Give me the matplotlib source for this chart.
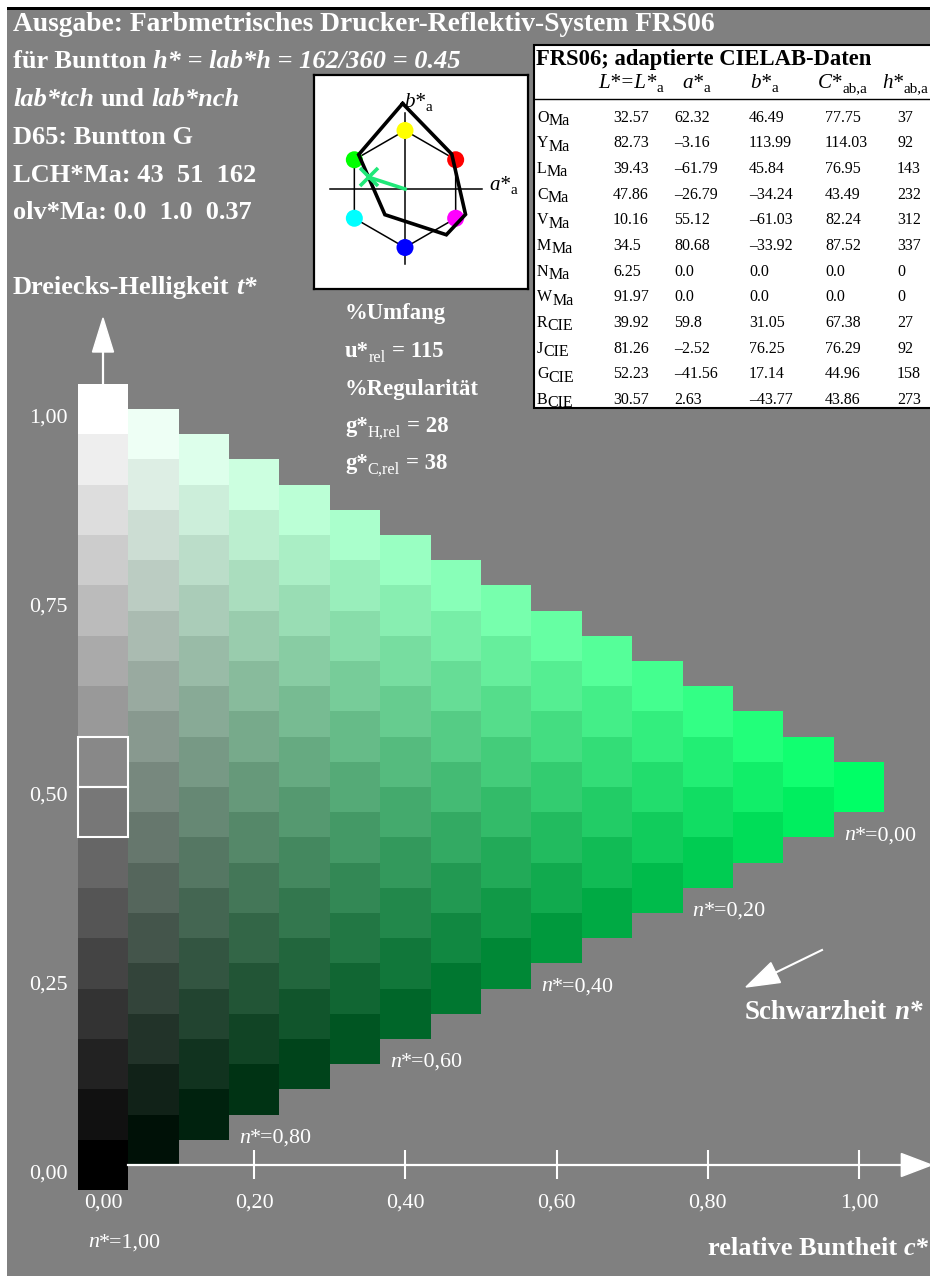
import numpy as np
import matplotlib.pyplot as plt
from matplotlib.patches import Rectangle, Polygon

plt.rcParams['font.family'] = ['Liberation Serif', 'DejaVu Serif']

# ---- data ----
grey_levels = [0, 17, 34, 51, 68, 85, 102, 119, 136, 153, 170, 187, 204, 221, 238, 255]
hue_rgb = (0, 255, 102)          # colour of the full-chroma step (c*=1)
marked_steps = [7, 8]            # outlined grey steps

n_values = [0.0, 0.2, 0.4, 0.6, 0.8]
n_labels = ['0,00', '0,20', '0,40', '0,60', '0,80']
c_ticks = [0.0, 0.2, 0.4, 0.6, 0.8, 1.0]
c_tick_labels = ['0,00', '0,20', '0,40', '0,60', '0,80', '1,00']
t_ticks = [0.0, 0.25, 0.5, 0.75, 1.0]
t_tick_labels = ['0,00', '0,25', '0,50', '0,75', '1,00']

row_names = ['O', 'Y', 'L', 'C', 'V', 'M', 'N', 'W', 'R', 'J', 'G', 'B']
row_subs = ['Ma'] * 8 + ['CIE'] * 4
L_vals = ['32.57', '82.73', '39.43', '47.86', '10.16', '34.5', '6.25', '91.97', '39.92', '81.26', '52.23', '30.57']
a_vals = ['62.32', '–3.16', '–61.79', '–26.79', '55.12', '80.68', '0.0', '0.0', '59.8', '–2.52', '–41.56', '2.63']
b_vals = ['46.49', '113.99', '45.84', '–34.24', '–61.03', '–33.92', '0.0', '0.0', '31.05', '76.25', '17.14', '–43.77']
C_vals = ['77.75', '114.03', '76.95', '43.49', '82.24', '87.52', '0.0', '0.0', '67.38', '76.29', '44.96', '43.86']
h_vals = ['37', '92', '143', '232', '312', '337', '0', '0', '27', '92', '158', '273']

hex_angles = [30, 90, 150, 210, 270, 330]
hex_colors = ['#ff0000', '#ffff00', '#00ff00', '#00ffff', '#0000ff', '#ff00ff']
hex_radius = 78
gamut_order = ['Y', 'O', 'M', 'V', 'C', 'L']
hue_angle = 162
hue_chroma = 51

W, H = 930, 1276
fig = plt.figure(figsize=(W / 100, H / 100), dpi=100)
fig.patch.set_facecolor('white')

# background
bg = fig.add_axes([0, 0, 1, 1])
bg.set_xlim(0, W); bg.set_ylim(H, 0); bg.axis('off')
bg.add_patch(Rectangle((7, 7), W - 7, H - 7, facecolor='#808080', edgecolor='none'))
bg.add_patch(Rectangle((7, 7), W - 7, 3, facecolor='black', edgecolor='none'))

# main triangle axes, 756 px per unit
ax = fig.add_axes([0, 0, 1, 1])
ax.set_xlim(-103 / 756, 827 / 756)
ax.set_ylim(-111 / 756, 1165 / 756)
ax.axis('off')
ax.patch.set_alpha(0)

step = 1 / 15
for j in range(16):
    c = grey_levels[j] / 255
    ws = [grey_levels[i] / 255 for i in range(16 - j)]
    cols = [tuple(min(1.0, c * hue_rgb[k] / 255 + w) for k in range(3)) for w in ws]
    ax.bar([c] * len(ws), [step] * len(ws), width=step,
           bottom=[c / 2 + w - step / 2 for w in ws],
           color=cols, linewidth=0, antialiased=False)

for i in marked_steps:
    w = grey_levels[i] / 255
    ax.add_patch(Rectangle((-step / 2, w - step / 2), step, step, fill=False,
                           edgecolor='white', lw=1.5, zorder=5))

# axes with arrows
ax.plot([step / 2, 1.057], [0, 0], color='white', lw=1.6, zorder=6)
ax.vlines(c_ticks[1:], -14 / 756, 15 / 756, color='white', lw=1.5, zorder=6)
ax.add_patch(Polygon([(1.056, 0.0152), (1.096, 0), (1.056, -0.0152)], color='white', zorder=6))
ax.plot([0, 0], [1 + step / 2, 1.077], color='white', lw=1.6, zorder=6)
ax.add_patch(Polygon([(-0.0139, 1.0754), (0, 1.1204), (0.0139, 1.0754)], color='white', zorder=6))

# ---- inset: a*b* diagram ----
ins = fig.add_axes([314 / W, 1 - 289 / H, 214 / W, 214 / H])
s = 0.75
ins.set_xlim((314 - 405) / s, (528 - 405) / s)
ins.set_ylim((189 - 289) / s, (189 - 75) / s)
ins.set_xticks([]); ins.set_yticks([])
ins.set_facecolor('white')
for sp in ins.spines.values():
    sp.set_linewidth(1.6)
ins.plot([-100, 102], [0, 0], color='black', lw=1.1, zorder=1)
ins.plot([0, 0], [-100, 101], color='black', lw=1.1, zorder=1)
hx = [hex_radius * np.cos(np.radians(a)) for a in hex_angles]
hy = [hex_radius * np.sin(np.radians(a)) for a in hex_angles]
ins.plot(hx + hx[:1], hy + hy[:1], color='black', lw=1.1, zorder=1)
ins.scatter(hx, hy, s=150, c=hex_colors, zorder=2, linewidths=0)


def num(v):
    return float(v.replace('–', '-'))


ga = [num(a_vals[row_names.index(k)]) for k in gamut_order]
gb = [num(b_vals[row_names.index(k)]) for k in gamut_order]
ins.plot(ga + ga[:1], gb + gb[:1], color='black', lw=2.6, zorder=3, solid_joinstyle='miter')
ha_ = hue_chroma * np.cos(np.radians(hue_angle))
hb_ = hue_chroma * np.sin(np.radians(hue_angle))
ins.plot([0, ha_], [0, hb_], color='#20e878', lw=2.6, zorder=4)
ins.plot([ha_], [hb_], marker='x', color='#20e878', ms=13, mew=2.6, zorder=4)

# overlay axes in pixel coordinates (on top of everything)
ov = fig.add_axes([0, 0, 1, 1])
ov.set_xlim(0, W); ov.set_ylim(H, 0); ov.axis('off')
ov.patch.set_alpha(0)
ov.set_zorder(10)

R = fig.canvas.get_renderer()


def to_px(x, y):
    dx, dy = ax.transData.transform((x, y))
    return dx, H - dy


def rich(x, y, parts, px, weight='bold', color='white', zorder=10):
    for txt, st in parts:
        if txt == ' ':
            x += 0.25 * px
            continue
        sub = 's' in st
        size = px * (0.72 if sub else 1.0)
        t = ov.text(x, y + (0.2 * px if sub else 0), txt, fontsize=size * 0.72,
                    color=color, weight='normal' if ('r' in st or sub) else weight,
                    style='italic' if 'i' in st else 'normal',
                    ha='left', va='baseline', zorder=zorder)
        x += t.get_window_extent(R).width
    return x


# header texts
rich(13, 31, [('Ausgabe: Farbmetrisches Drucker-Reflektiv-System FRS06', '')], 27.5)
rich(13, 68, [('für Buntton', ''), (' ', ''), ('h* = lab*h = 162/360 = 0.45', 'i')], 26.4)
rich(13, 106, [('lab*tch', 'i'), (' ', ''), ('und', ''), (' ', ''), ('lab*nch', 'i')], 26.4)
rich(13, 143.5, [('D65: Buntton G', '')], 26.4)
rich(13, 181.5, [('LCH*Ma: 43  51  162', '')], 26.4)
rich(13, 219, [('olv*Ma: 0.0  1.0  0.37', '')], 26.4)
rich(13, 294, [('Dreiecks-Helligkeit', ''), (' ', ''), ('t*', 'i')], 26.4)

rich(345, 319, [('%Umfang', '')], 22.7)
rich(345, 357, [('u*', ''), ('rel', 's'), (' ', ''), ('= 115', '')], 22.7)
rich(345, 395, [('%Regularität', '')], 22.7)
rich(345, 432, [('g*', ''), ('H,rel', 's'), (' ', ''), ('= 28', '')], 22.7)
rich(345, 469, [('g*', ''), ('C,rel', 's'), (' ', ''), ('= 38', '')], 22.7)

# tick labels
for t, lab in zip(t_ticks, t_tick_labels):
    px, py = to_px(0, t)
    ov.text(68, py + 9, lab, fontsize=22 * 0.72, color='white', ha='right', va='center')
for c, lab in zip(c_ticks, c_tick_labels):
    px, py = to_px(c, 0)
    ov.text(px, py + 38, lab, fontsize=22 * 0.72, color='white', ha='center', va='center')

# n* labels at the lower end of the columns
for n, lab in zip(n_values, n_labels):
    j = round(15 * (1 - n))
    px, py = to_px(j / 15 - step / 2, j / 30 - step / 2)
    rich(px + 10, py + 28, [('n', 'i'), ('*=' + lab, '')], 22, weight='normal')
px, py = to_px(-step / 2, -step / 2)
rich(px + 10, py + 57, [('n', 'i'), ('*=1,00', '')], 22, weight='normal')

rich(745, 1019, [('Schwarzheit', ''), (' ', ''), ('n*', 'i')], 27)
rich(708, 1255, [('relative Buntheit', ''), (' ', ''), ('c*', 'i')], 26.4)

# Schwarzheit arrow
tail = np.array([822, 950.0]); tip = np.array([746, 987.0])
u = (tip - tail) / np.hypot(*(tip - tail))
base = tip - 33 * u
perp = np.array([-u[1], u[0]])
ov.plot([tail[0], base[0]], [tail[1], base[1]], color='white', lw=1.5)
ov.add_patch(Polygon([tip, base + 11 * perp, base - 11 * perp], color='white'))

# inset axis labels
rich(404, 107, [('b*', 'i'), ('a', 's')], 21, weight='normal', color='black', zorder=20)
rich(489, 190, [('a*', 'i'), ('a', 's')], 21, weight='normal', color='black', zorder=20)

# ---- table ----
ov.add_patch(Rectangle((534, 45), 420, 363, facecolor='white', edgecolor='black', lw=1.5, zorder=8))
ov.plot([534, 930], [99, 99], color='black', lw=1.0, zorder=9)
rich(536, 65, [('FRS06; adaptierte CIELAB-Daten', '')], 22.6, color='black')
hdr_x = [598, 682, 750, 818, 882]
hdr_parts = [[('L*=L*', 'i'), ('a', 's')], [('a*', 'i'), ('a', 's')], [('b*', 'i'), ('a', 's')],
             [('C*', 'i'), ('ab,a', 's')], [('h*', 'i'), ('ab,a', 's')]]
for x, parts in zip(hdr_x, hdr_parts):
    rich(x, 88.3, parts, 21, weight='normal', color='black')

col_x = [613, 674, 749, 825, 897]
for k, name in enumerate(row_names):
    y = 121.7 + 25.65 * k
    t = ov.text(537, y, name, fontsize=16 * 0.72, color='black', va='baseline', zorder=10)
    x2 = 537 + t.get_window_extent(R).width
    ov.text(x2, y + 3.5, row_subs[k], fontsize=16 * 0.72, color='black', va='baseline', zorder=10)
    for x, vals in zip(col_x, [L_vals, a_vals, b_vals, C_vals, h_vals]):
        ov.text(x, y, vals[k], fontsize=16 * 0.72, color='black', va='baseline', zorder=10)

fig.savefig('out.png', dpi=100, facecolor=fig.get_facecolor())
